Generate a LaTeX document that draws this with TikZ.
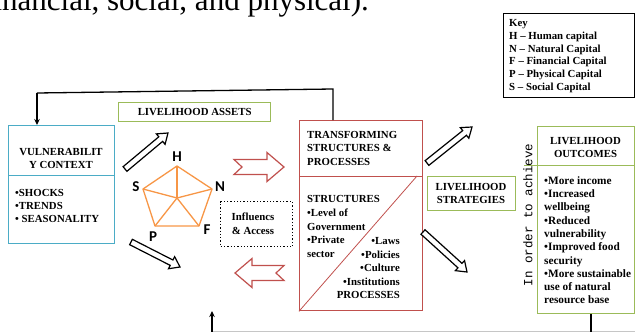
\documentclass[tikz,border=0pt]{standalone}
\usepackage{fontspec}
\setmainfont{Liberation Serif}
\setmonofont{Liberation Mono}
\newfontfamily\capfont{Carlito}
\usetikzlibrary{calc,arrows.meta}

\definecolor{vulblue}{HTML}{4BACC6}
\definecolor{assetgreen}{HTML}{9BBB59}
\definecolor{tsred}{HTML}{C0504D}
\definecolor{caporange}{HTML}{F79646}

\tikzset{
  box/.style={draw, line width=1.3pt, anchor=north west, inner sep=0pt},
  txt/.style={font=\bfseries\fontsize{10.8}{13}\selectfont, inner sep=0pt, anchor=base west},
  ctxt/.style={txt, anchor=base},
  rtxt/.style={txt, anchor=base east},
  otxt/.style={font=\bfseries\fontsize{11.3}{13}\selectfont, inner sep=0pt, anchor=base west},
  keytxt/.style={font=\bfseries\fontsize{10.8}{12}\selectfont, inner sep=0pt, anchor=base west},
  caplbl/.style={font=\capfont\bfseries\fontsize{15}{15}\selectfont, inner sep=0pt},
  hollow/.style={draw=black, fill=white, line width=1.2pt, line join=miter},
  redhollow/.style={draw=tsred, fill=white, line width=1.2pt, line join=miter},
  loop/.style={draw=black, line width=1.3pt},
  looptip/.style={loop, -{Stealth[length=6pt,width=5.5pt]}},
}

% straight block arrow from #2 (tail) to #3 (tip)
\newcommand\blockarrow[3]{%
  \path ($(#3)!9.5pt!(#2)$) coordinate (hb);
  \draw[#1] ($(#2)!3pt!90:(#3)$) -- ($(hb)!3pt!90:(#3)$) -- ($(hb)!6.8pt!90:(#3)$)
    -- (#3) -- ($(hb)!6.8pt!-90:(#3)$) -- ($(hb)!3pt!-90:(#3)$)
    -- ($(#2)!3pt!-90:(#3)$) -- cycle;}

% block arrow with a notched tail, from #2 (tail) to #3 (tip)
\newcommand\notcharrow[3]{%
  \path ($(#3)!17pt!(#2)$) coordinate (hb) ($(#2)!8pt!(#3)$) coordinate (nt);
  \draw[#1] ($(#2)!7.5pt!90:(#3)$) -- ($(hb)!7.5pt!90:(#3)$) -- ($(hb)!14.5pt!90:(#3)$)
    -- (#3) -- ($(hb)!14.5pt!-90:(#3)$) -- ($(hb)!7.5pt!-90:(#3)$)
    -- ($(#2)!7.5pt!-90:(#3)$) -- (nt) -- cycle;}

\begin{document}
\begin{tikzpicture}[x=1pt, y=-1pt]
\useasboundingbox (0,0) rectangle (635,332);

% closing words of the preceding sentence
\node[font=\fontsize{31}{31}\selectfont, anchor=base west, inner sep=0pt] (lead) at (-17,10) {financial, social, and physical).};

% key
\node[box, draw=black, line width=1.4pt, minimum width=131pt, minimum height=84pt] (key) at (503,13) {};
\node[keytxt] (keyhd) at (509,26.5) {Key};
\foreach \t [count=\i] in {H -- Human capital, N -- Natural Capital, F -- Financial Capital, P -- Physical Capital, S -- Social Capital}
  \node[keytxt] (key\i) at (509, 26.5+12.8*\i) {\t};

% vulnerability context
\node[box, draw=vulblue, minimum width=106pt, minimum height=118pt] (vul) at (8,125) {};
\node[ctxt] (vult1) at (61,155.7) {VULNERABILIT};
\node[ctxt] (vult2) at (61,168.7) {Y CONTEXT};
\draw[vulblue, line width=1pt] (vul.west |- 0,175) -- (vul.east |- 0,175);
\node[txt] (vb1) at (15,196) {•SHOCKS};
\node[txt] (vb2) at (15,209) {•TRENDS};
\node[txt] (vb3) at (15,222) {• SEASONALITY};

% livelihood assets
\node[box, draw=assetgreen, minimum width=152pt, minimum height=19pt] (assets) at (118,102) {};
\node[ctxt] (assetst) at ($(assets.center)+(0,3.6)$) {LIVELIHOOD ASSETS};

% asset pentagon
\coordinate (pH) at (177,166);
\coordinate (pN) at (212,189);
\coordinate (pF) at (199,226);
\coordinate (pP) at (155,226);
\coordinate (pS) at (143,189);
\coordinate (pC) at (177,198);
\draw[caporange, line width=1.3pt, line join=round] (pH) -- (pN) -- (pF) -- (pP) -- (pS) -- cycle;
\foreach \v in {pH,pN,pF,pP,pS} \draw[caporange, line width=1.3pt] (pC) -- (\v);
\node[caplbl] (lH) at (177,157) {H};
\node[caplbl] (lN) at (220,187) {N};
\node[caplbl] (lF) at (207,230) {F};
\node[caplbl] (lP) at (153,237) {P};
\node[caplbl] (lS) at (136,187) {S};

% influences and access
\node[box, draw=black, dotted, line width=1.4pt, minimum width=72pt, minimum height=45pt] (infl) at (220,201) {};
\node[ctxt] (inflt1) at (253,220.5) {Influencs};
\node[ctxt] (inflt2) at (253,234) {\& Access};

% transforming structures and processes
\node[box, draw=tsred, minimum width=123pt, minimum height=190pt] (tr) at (299,120) {};
\draw[tsred, line width=1pt] (tr.west |- 0,176) -- (tr.east |- 0,176);
\coordinate (diagtop) at (417,176);
\draw[tsred, line width=0.8pt] (tr.south west) -- (diagtop);
\node[txt] (trt1) at (307,138) {TRANSFORMING};
\node[txt] (trt2) at (307,151.5) {STRUCTURES \&};
\node[txt] (trt3) at (307,165) {PROCESSES};
\node[txt] (st1) at (307,202.5) {STRUCTURES};
\node[txt] (st2) at (307,216.5) {•Level of};
\node[txt] (st3) at (307,230) {Government};
\node[txt] (st4) at (307,243.5) {•Private};
\node[txt] (st5) at (307,257) {sector};
\node[rtxt] (pr1) at (400,244.5) {•Laws};
\node[rtxt] (pr2) at (400,258) {•Policies};
\node[rtxt] (pr3) at (400,271.5) {•Culture};
\node[rtxt] (pr4) at (400,285) {•Institutions};
\node[rtxt] (pr5) at (400,298) {PROCESSES};

% livelihood strategies
\node[box, draw=assetgreen, minimum width=88pt, minimum height=34pt] (strat) at (427,176) {};
\node[ctxt] (stratt1) at (471,190.5) {LIVELIHOOD};
\node[ctxt] (stratt2) at (471,203.5) {STRATEGIES};

% livelihood outcomes
\node[box, draw=assetgreen, minimum width=97pt, minimum height=187pt] (outc) at (537,126) {};
\coordinate (odiv) at (524,165);
\draw[assetgreen, line width=1pt] (odiv) -- (outc.east |- odiv);
\node[ctxt] (outt1) at (585.5,144.5) {LIVELIHOOD};
\node[ctxt] (outt2) at (585.5,157) {OUTCOMES};
\foreach \t [count=\i from 0] in {•More income, •Increased, wellbeing, •Reduced, vulnerability, •Improved food, security, •More sustainable, use of natural, resource base}
  \node[otxt] (ob\i) at (544, 184.2+13.3*\i) {\t};
\node[rotate=90, font=\ttfamily\fontsize{12.5}{12.5}\selectfont, inner sep=0pt] (achieve) at (528,215) {In order to achieve};

% block arrows between the stages
\coordinate (a1t) at (125,169); \coordinate (a1h) at (168,133);
\coordinate (a2t) at (131,242); \coordinate (a2h) at (180,267);
\coordinate (a3t) at (427,163); \coordinate (a3h) at (472,127);
\coordinate (a4t) at (423,232); \coordinate (a4h) at (467,272);
\blockarrow{hollow}{a1t}{a1h}
\blockarrow{hollow}{a2t}{a2h}
\blockarrow{hollow}{a3t}{a3h}
\blockarrow{hollow}{a4t}{a4h}

\coordinate (r1t) at (234,167); \coordinate (r1h) at (284,167);
\coordinate (r2t) at (284,273); \coordinate (r2h) at (235,273);
\notcharrow{redhollow}{r1t}{r1h}
\notcharrow{redhollow}{r2t}{r2h}

% feedback loops
\coordinate (loopR) at (333,89);
\coordinate (loopL) at (37,93);
\draw[loop] (tr.north -| loopR) -- (loopR) -- (loopL);
\draw[looptip] (loopL) -- (vul.north -| loopL);

\coordinate (loopBR) at (591,331.5);
\coordinate (loopBL) at (212,331.5);
\coordinate (loopEnd) at (635,331.5);
\coordinate (upTip) at (212,311);
\draw[gray!45, line width=0.9pt] (loopBL) -- (loopEnd);
\draw[loop] (outc.south -| loopBR) -- (loopBR);
\draw[looptip] (loopBL) -- (upTip);
\end{tikzpicture}
\end{document}
